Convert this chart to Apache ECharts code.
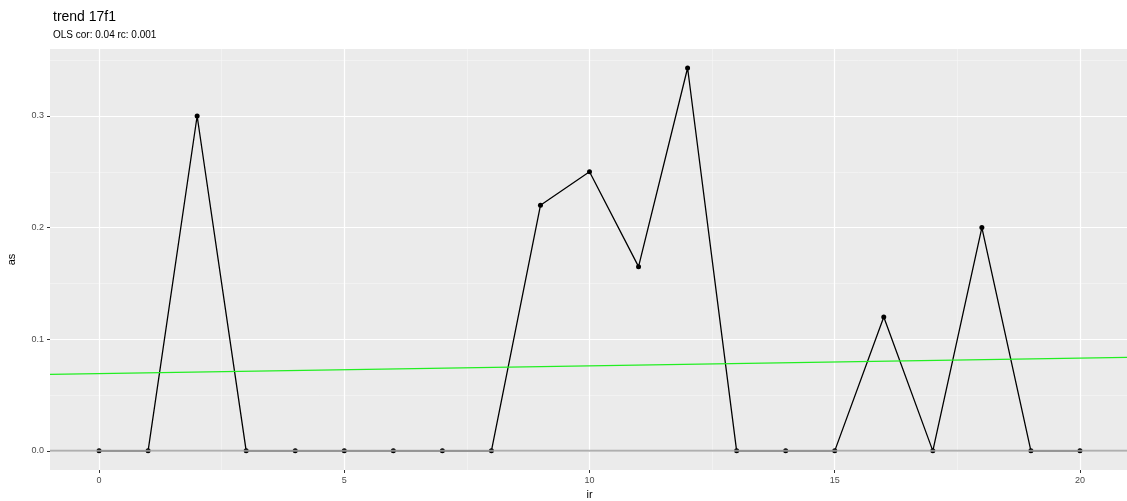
<!DOCTYPE html>
<html>
<head>
<meta charset="utf-8">
<script src="https://cdn.jsdelivr.net/npm/echarts@6/dist/echarts.min.js"></script>
<style>
html,body{margin:0;padding:0;background:#fff;}
#chart{width:1127px;height:501px;}
</style>
</head>
<body>
<div id="chart"></div>
<script>
// ---- data ----
const irValues = [0,1,2,3,4,5,6,7,8,9,10,11,12,13,14,15,16,17,18,19,20];
const asValues = [0,0,0.3,0,0,0,0,0,0,0.22,0.25,0.165,0.343,0,0,0,0.12,0,0.2,0,0];
const trendX = [-1, 21];
const trendY = [0.0685, 0.0838];
const xTicks = [0,5,10,15,20];
const xMinor = [2.5,7.5,12.5,17.5];
const yTicks = [0,0.1,0.2,0.3];
const yMinor = [0.05,0.15,0.25,0.35];
const titleText = 'trend 17f1';
const subtitleText = 'OLS cor: 0.04 rc: 0.001';

const font = 'Liberation Sans, Arial, Helvetica, sans-serif';
const chart = echarts.init(document.getElementById('chart'));

const mainData = irValues.map((x,i)=>[x, asValues[i]]);
const trendData = trendX.map((x,i)=>[x, trendY[i]]);

const gridLines = [];
xMinor.forEach(v=>gridLines.push({xAxis:v, lineStyle:{color:'#f7f7f7', width:0.6, type:'solid'}}));
yMinor.forEach(v=>gridLines.push({yAxis:v, lineStyle:{color:'#f7f7f7', width:0.6, type:'solid'}}));
xTicks.forEach(v=>gridLines.push({xAxis:v, lineStyle:{color:'#ffffff', width:1.2, type:'solid'}}));
yTicks.forEach(v=>gridLines.push({yAxis:v, lineStyle:{color:'#ffffff', width:1.2, type:'solid'}}));

chart.setOption({
  animation:false,
  backgroundColor:'#ffffff',
  title:{
    text:titleText, subtext:subtitleText,
    left:48, top:5, itemGap:6,
    textStyle:{fontFamily:font, fontSize:14, fontWeight:'normal', color:'#000'},
    subtextStyle:{fontFamily:font, fontSize:10, color:'#000'}
  },
  grid:{left:50, top:49, width:1079, bottom:31, show:true, backgroundColor:'#EBEBEB', borderWidth:0,
        containLabel:false, outerBoundsMode:'none'},
  xAxis:{
    type:'value', min:-1, max:21,
    name:'ir', nameLocation:'middle', nameGap:17,
    nameTextStyle:{fontFamily:font, fontSize:11, color:'#000'},
    axisLine:{show:false, onZero:false},
    axisTick:{show:true, length:3, lineStyle:{color:'#333', width:1}, customValues:xTicks},
    axisLabel:{fontFamily:font, fontSize:9, color:'#4D4D4D', margin:6, customValues:xTicks},
    splitLine:{show:false}
  },
  yAxis:{
    type:'value', min:-0.01715, max:0.36,
    name:'as', nameLocation:'middle', nameGap:33, nameRotate:90,
    nameTextStyle:{fontFamily:font, fontSize:11, color:'#000'},
    axisLine:{show:false, onZero:false},
    axisTick:{show:true, length:3, lineStyle:{color:'#333', width:1}, customValues:yTicks},
    axisLabel:{fontFamily:font, fontSize:9, color:'#4D4D4D', margin:6, customValues:yTicks,
      formatter:v=>v.toFixed(1)},
    splitLine:{show:false}
  },
  series:[
    {
      type:'line', data:[], silent:true, z:0,
      markLine:{silent:true, z:0, symbol:['none','none'], label:{show:false}, animation:false,
        emphasis:{disabled:true}, data:gridLines}
    },
    {
      type:'line', data:mainData, z:10,
      lineStyle:{color:'#000', width:1.3},
      itemStyle:{color:'#000'},
      symbol:'circle', symbolSize:5, showSymbol:true
    },
    {
      type:'line', data:[[-1,0],[21,0]], z:11, symbol:'none',
      lineStyle:{color:'rgba(165,165,165,0.85)', width:2}
    },
    {
      type:'line', data:trendData, z:12, symbol:'none',
      lineStyle:{color:'#22ee22', width:1.2}
    }
  ]
});
</script>
</body>
</html>
